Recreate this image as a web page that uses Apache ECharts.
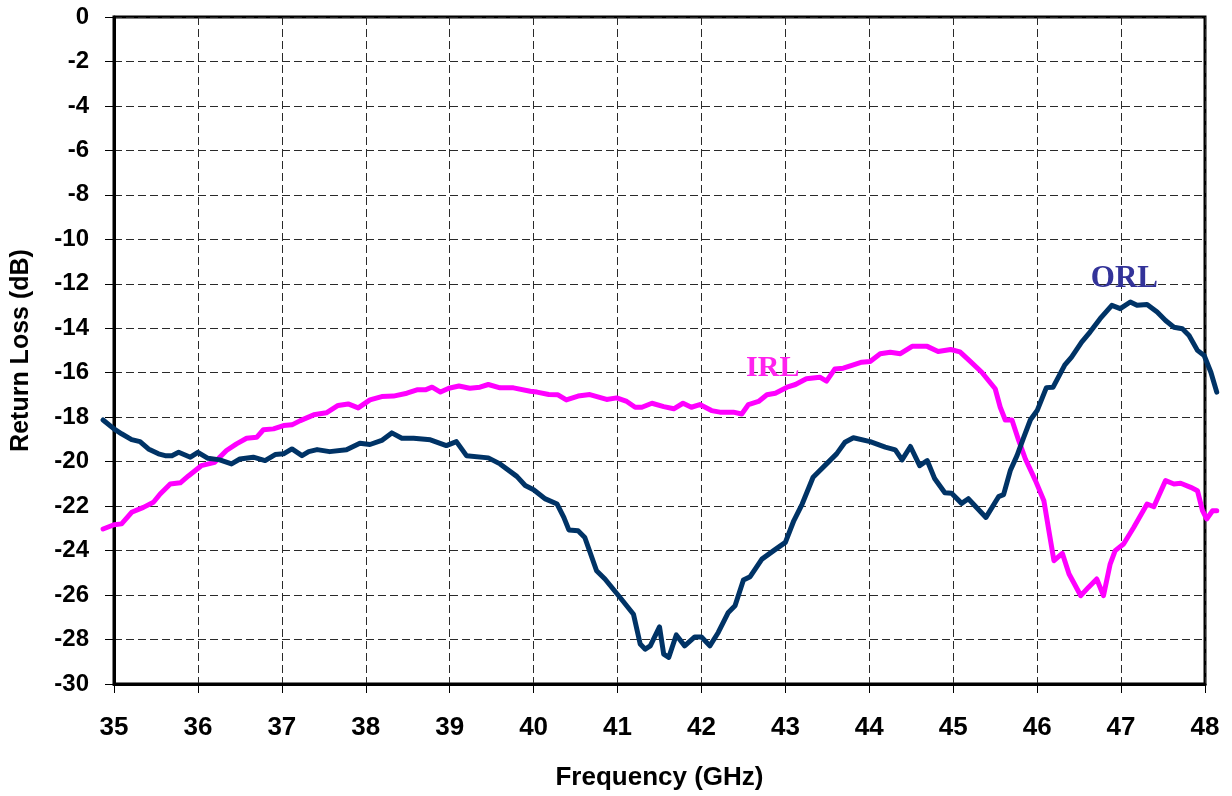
<!DOCTYPE html>
<html>
<head>
<meta charset="utf-8">
<script src="https://cdn.jsdelivr.net/npm/echarts@6/dist/echarts.min.js"></script>
<style>
html,body{margin:0;padding:0;background:#fff;}
#chart{width:1232px;height:796px;}
</style>
</head>
<body>
<div id="chart"></div>
<script>
// Frequency (GHz) and return loss (dB)
var orlFreq = [34.87,35.00,35.09,35.21,35.31,35.41,35.53,35.61,35.69,35.77,35.91,36.00,36.12,36.26,36.40,36.50,36.66,36.80,36.92,37.02,37.12,37.24,37.32,37.42,37.57,37.77,37.93,38.05,38.19,38.31,38.43,38.57,38.77,38.96,39.08,39.20,39.46,39.60,39.80,39.90,40.00,40.14,40.28,40.36,40.42,40.53,40.61,40.75,40.85,41.03,41.19,41.27,41.33,41.39,41.50,41.55,41.61,41.70,41.80,41.92,42.00,42.10,42.20,42.32,42.40,42.50,42.58,42.72,42.86,43.00,43.10,43.20,43.33,43.49,43.61,43.71,43.81,44.01,44.19,44.31,44.39,44.49,44.60,44.69,44.78,44.90,44.98,45.10,45.18,45.39,45.54,45.60,45.68,45.76,45.84,45.92,46.00,46.11,46.19,46.33,46.41,46.53,46.63,46.75,46.89,46.99,47.11,47.19,47.31,47.43,47.53,47.63,47.73,47.81,47.91,47.99,48.07,48.14];
var orlValues = [-18.07,-18.47,-18.69,-18.95,-19.04,-19.37,-19.59,-19.67,-19.67,-19.52,-19.74,-19.52,-19.79,-19.86,-20.04,-19.82,-19.74,-19.89,-19.62,-19.59,-19.37,-19.67,-19.49,-19.40,-19.49,-19.41,-19.11,-19.17,-18.99,-18.65,-18.89,-18.89,-18.96,-19.22,-19.04,-19.67,-19.77,-20.04,-20.60,-21.01,-21.20,-21.61,-21.84,-22.44,-23.00,-23.04,-23.34,-24.83,-25.20,-26.03,-26.78,-28.12,-28.35,-28.20,-27.35,-28.57,-28.72,-27.71,-28.20,-27.80,-27.80,-28.20,-27.60,-26.70,-26.40,-25.25,-25.10,-24.31,-23.93,-23.56,-22.59,-21.84,-20.64,-20.04,-19.59,-19.07,-18.87,-19.04,-19.29,-19.41,-19.86,-19.26,-20.12,-19.89,-20.71,-21.33,-21.36,-21.81,-21.60,-22.44,-21.51,-21.42,-20.34,-19.67,-18.85,-18.06,-17.65,-16.62,-16.60,-15.60,-15.25,-14.58,-14.13,-13.53,-12.93,-13.08,-12.78,-12.93,-12.89,-13.23,-13.61,-13.91,-13.98,-14.28,-14.95,-15.18,-15.93,-16.82];

var irlFreq = [34.87,35.00,35.09,35.21,35.35,35.47,35.55,35.67,35.79,35.89,36.04,36.20,36.34,36.46,36.58,36.70,36.78,36.90,37.02,37.12,37.22,37.38,37.53,37.67,37.79,37.91,38.05,38.19,38.33,38.49,38.61,38.71,38.79,38.89,38.99,39.11,39.24,39.36,39.46,39.60,39.76,39.96,40.04,40.18,40.29,40.39,40.53,40.67,40.87,40.99,41.11,41.21,41.29,41.41,41.55,41.67,41.78,41.88,41.98,42.12,42.22,42.38,42.48,42.56,42.68,42.78,42.88,43.02,43.12,43.25,43.41,43.49,43.59,43.69,43.81,43.91,44.01,44.13,44.25,44.37,44.51,44.69,44.82,44.97,45.08,45.19,45.34,45.50,45.56,45.62,45.70,45.78,45.86,45.98,46.08,46.14,46.20,46.30,46.38,46.52,46.61,46.71,46.79,46.87,46.93,47.03,47.15,47.31,47.39,47.53,47.63,47.71,47.83,47.91,47.97,48.02,48.09,48.14];
var irlValues = [-22.96,-22.77,-22.73,-22.21,-21.99,-21.76,-21.39,-20.94,-20.89,-20.57,-20.12,-19.97,-19.44,-19.14,-18.89,-18.85,-18.51,-18.47,-18.32,-18.29,-18.10,-17.84,-17.75,-17.42,-17.35,-17.53,-17.17,-17.02,-17.00,-16.87,-16.72,-16.72,-16.60,-16.82,-16.65,-16.55,-16.65,-16.60,-16.48,-16.63,-16.63,-16.78,-16.82,-16.93,-16.94,-17.17,-17.00,-16.93,-17.15,-17.08,-17.24,-17.50,-17.50,-17.32,-17.47,-17.57,-17.32,-17.50,-17.38,-17.65,-17.72,-17.72,-17.80,-17.38,-17.24,-16.94,-16.87,-16.60,-16.48,-16.22,-16.15,-16.33,-15.78,-15.75,-15.60,-15.48,-15.45,-15.10,-15.03,-15.10,-14.77,-14.77,-15.00,-14.91,-15.02,-15.40,-15.93,-16.67,-17.50,-18.07,-18.07,-18.99,-19.82,-20.79,-21.69,-23.04,-24.38,-24.05,-24.98,-25.95,-25.58,-25.20,-25.95,-24.53,-23.93,-23.63,-22.89,-21.84,-21.96,-20.79,-20.94,-20.91,-21.09,-21.24,-22.14,-22.51,-22.14,-22.14];

var seriesNames = ['ORL', 'IRL'];
var labelCoords = { ORL: [47.04, -11.76], IRL: [42.85, -15.76] };
var xTicks = { min: 35, max: 48, step: 1 };
var yTicks = { min: -30, max: 0, step: 2 };

function pairs(xs, ys) {
  var out = [];
  for (var i = 0; i < xs.length; i++) out.push([xs[i], ys[i]]);
  return out;
}

// Layout: visible plot box, plus a slightly wider hidden grid with the same
// GHz-per-pixel scale so the traces can run past the box edges like the original.
var W = 1232, H = 796;
var box = { left: 114, right: 27, top: 17, bottom: 110 };
var over = { left: 11, right: 12 };
var pxPerUnit = (W - box.left - box.right) / (xTicks.max - xTicks.min);
var wideMin = xTicks.min - over.left / pxPerUnit;
var wideMax = xTicks.max + over.right / pxPerUnit;

var chart = echarts.init(document.getElementById('chart'), null, { renderer: 'canvas' });
var gridDash = { color: '#2a2a2a', width: 1, type: [8, 4] };
var boldSans = { fontFamily: 'Liberation Sans', fontWeight: 'bold', color: '#000' };

chart.setOption({
  animation: false,
  backgroundColor: '#fff',
  grid: [
    { left: box.left, right: box.right, top: box.top, bottom: box.bottom,
      show: true, borderColor: '#000', borderWidth: 3, backgroundColor: 'transparent' },
    { left: box.left - over.left, right: box.right - over.right, top: box.top, bottom: box.bottom,
      show: false }
  ],
  xAxis: [
    {
      gridIndex: 0, type: 'value',
      min: xTicks.min, max: xTicks.max, interval: xTicks.step,
      name: 'Frequency (GHz)', nameLocation: 'middle', nameGap: 81,
      nameTextStyle: Object.assign({ fontSize: 26 }, boldSans),
      axisLine: { show: true, onZero: false, lineStyle: { color: '#000', width: 3 } },
      axisTick: { show: true, inside: false, length: 9, lineStyle: { color: '#000', width: 1 } },
      axisLabel: Object.assign({ margin: 31, fontSize: 26 }, boldSans),
      splitLine: { show: true, lineStyle: gridDash }
    },
    {
      gridIndex: 1, type: 'value', min: wideMin, max: wideMax, show: false,
      splitLine: { show: false }
    }
  ],
  yAxis: [
    {
      gridIndex: 0, type: 'value',
      min: yTicks.min, max: yTicks.max, interval: yTicks.step,
      name: 'Return Loss (dB)', nameLocation: 'middle', nameGap: 80, nameRotate: 90,
      nameTextStyle: Object.assign({ fontSize: 25 }, boldSans),
      axisLine: { show: true, onZero: false, lineStyle: { color: '#000', width: 3 } },
      axisTick: { show: true, inside: false, length: 9, lineStyle: { color: '#000', width: 1 } },
      axisLabel: Object.assign({ margin: 25, fontSize: 24 }, boldSans),
      splitLine: { show: true, lineStyle: gridDash }
    },
    {
      gridIndex: 1, type: 'value', min: yTicks.min, max: yTicks.max, show: false,
      splitLine: { show: false }
    }
  ],
  series: [
    {
      name: seriesNames[0], type: 'line', xAxisIndex: 1, yAxisIndex: 1,
      data: pairs(orlFreq, orlValues),
      showSymbol: false, symbol: 'none', clip: false, smooth: false, z: 5,
      lineStyle: { color: '#003366', width: 5, join: 'round', cap: 'round' },
      markPoint: {
        symbol: 'circle', symbolSize: 1, itemStyle: { color: 'rgba(0,0,0,0)' },
        label: { show: true, position: 'inside', formatter: seriesNames[0],
          fontFamily: 'Liberation Serif', fontWeight: 'bold', fontSize: 31, color: '#333399' },
        data: [{ coord: labelCoords.ORL }]
      }
    },
    {
      name: seriesNames[1], type: 'line', xAxisIndex: 1, yAxisIndex: 1,
      data: pairs(irlFreq, irlValues),
      showSymbol: false, symbol: 'none', clip: false, smooth: false, z: 4,
      lineStyle: { color: '#FF00FF', width: 5, join: 'round', cap: 'round' },
      markPoint: {
        symbol: 'circle', symbolSize: 1, itemStyle: { color: 'rgba(0,0,0,0)' },
        label: { show: true, position: 'inside', formatter: seriesNames[1],
          fontFamily: 'Liberation Serif', fontWeight: 'bold', fontSize: 30, color: '#FF22EE' },
        data: [{ coord: labelCoords.IRL }]
      }
    }
  ]
});
</script>
</body>
</html>
